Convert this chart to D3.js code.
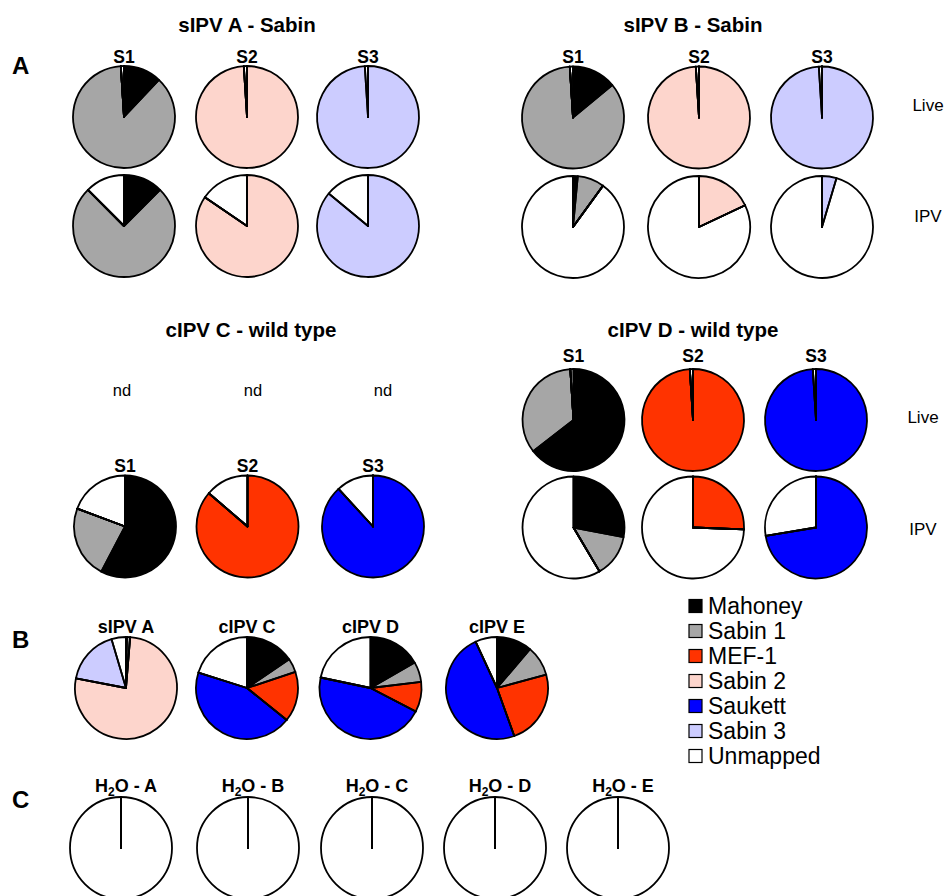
<!DOCTYPE html>
<html>
<head>
<meta charset="utf-8">
<script src="https://cdn.jsdelivr.net/npm/d3@7"></script>
<style>
  body { margin: 0; background: #fff; }
  svg { display: block; }
  text { font-family: "Liberation Sans", Arial, Helvetica, sans-serif; fill: #000; }
</style>
</head>
<body>
<svg id="chart" width="946" height="896"></svg>
<script>
// Strain order used for every pie (clockwise from 12 o'clock)
const strains = ["Mahoney", "Sabin 1", "MEF-1", "Sabin 2", "Saukett", "Sabin 3", "Unmapped"];
const strainColors = ["#000000", "#a6a6a6", "#ff3300", "#fdd5cc", "#0000ff", "#ccccff", "#ffffff"];
const serotypes = ["S1", "S2", "S3"];
const rowLabels = ["Live", "IPV"];

// Read share (%) per strain, one array per serotype S1, S2, S3
const sipvALive = [[12, 87, 0, 0, 0, 0, 1], [0, 0, 0, 99, 0, 0, 1], [0, 0, 0, 0, 0, 99, 1]];
const sipvAIpv  = [[12.5, 75, 0, 0, 0, 0, 12.5], [0, 0, 0, 84.5, 0, 0, 15.5], [0, 0, 0, 0, 0, 86, 14]];
const sipvBLive = [[14, 85, 0, 0, 0, 0, 1], [0, 0, 0, 99, 0, 0, 1], [0, 0, 0, 0, 0, 99, 1]];
const sipvBIpv  = [[1.5, 8.5, 0, 0, 0, 0, 90], [0, 0, 0, 18, 0, 0, 82], [0, 0, 0, 0, 0, 4.6, 95.4]];
const cipvCIpv  = [[57.7, 23, 0, 0, 0, 0, 19.3], [0, 0, 86.3, 0, 0, 0, 13.7], [0, 0, 0, 0, 88.2, 0, 11.8]];
const cipvDLive = [[64.5, 34.5, 0, 0, 0, 0, 1], [0, 0, 99, 0, 0, 0, 1], [0, 0, 0, 0, 99, 0, 1]];
const cipvDIpv  = [[28, 13.5, 0, 0, 0, 0, 58.5], [0, 0, 25.6, 0, 0, 0, 74.4], [0, 0, 0, 0, 72.4, 0, 27.6]];

// Panel B: whole-vaccine composition
const vaccineLabels = ["sIPV A", "cIPV C", "cIPV D", "cIPV E"];
const vaccineValues = [
  [0.3, 1, 0, 76.7, 0, 17.4, 4.6],
  [15.5, 4.4, 15.9, 0, 44.1, 0, 20.1],
  [16.7, 6.4, 9.5, 0, 45.7, 0, 21.7],
  [11.2, 9.6, 23.7, 0, 48.6, 0, 6.9]
];

// Panel C: water controls
const waterLabels = ["A", "B", "C", "D", "E"];
const waterSpacing = ["", " ", "", " ", ""];
const waterValues = [
  [0, 0, 0, 0, 0, 0, 100],
  [0, 0, 0, 0, 0, 0, 100],
  [0, 0, 0, 0, 0, 0, 100],
  [0, 0, 0, 0, 0, 0, 100],
  [0, 0, 0, 0, 0, 0, 100]
];

const svg = d3.select("#chart");
const color = d3.scaleOrdinal(strains, strainColors);
const R = 51;
const pie = d3.pie().sort(null).value(d => d.v);
const arc = d3.arc().innerRadius(0).outerRadius(R);

// Fills first, then all slice outlines on top so that empty
// slices still show their boundary spoke.
function drawPie(cx, cy, values) {
  const g = svg.append("g").attr("transform", `translate(${cx},${cy})`);
  const arcs = pie(values.map((v, i) => ({ key: strains[i], v })));
  g.append("g").selectAll("path")
    .data(arcs)
    .join("path")
    .attr("d", arc)
    .attr("fill", d => color(d.data.key));
  g.append("g").selectAll("path")
    .data(arcs)
    .join("path")
    .attr("d", arc)
    .attr("fill", "none")
    .attr("stroke", "#000")
    .attr("stroke-width", 1.8)
    .attr("stroke-linejoin", "round");
}

function label(x, y, txt, size, weight, anchor = "middle") {
  return svg.append("text")
    .attr("x", x).attr("y", y)
    .attr("text-anchor", anchor)
    .attr("font-size", size)
    .attr("font-weight", weight)
    .text(txt);
}

// ---- Panel A ----
label(12, 74, "A", 24, "bold", "start");

// sIPV A - Sabin
label(247, 32, "sIPV A - Sabin", 20.5, "bold");
[124, 247, 368].forEach((x, i) => {
  label(x, 63, serotypes[i], 17.5, "bold");
  drawPie(x, 117, sipvALive[i]);
  drawPie(x, 226, sipvAIpv[i]);
});

// sIPV B - Sabin
label(693, 32, "sIPV B - Sabin", 20.5, "bold");
[573, 699, 822].forEach((x, i) => {
  label(x, 63, serotypes[i], 17.5, "bold");
  drawPie(x, 117.5, sipvBLive[i]);
  drawPie(x, 227, sipvBIpv[i]);
});
label(928, 111, rowLabels[0], 17, "normal");
label(928, 222, rowLabels[1], 17, "normal");

// cIPV C - wild type
label(251, 337, "cIPV C - wild type", 20.5, "bold");
[122, 253, 383].forEach(x => label(x, 396, "nd", 16.5, "normal"));
[125, 247.5, 373].forEach((x, i) => {
  label(x, 472, serotypes[i], 17.5, "bold");
  drawPie(x, 526.5, cipvCIpv[i]);
});

// cIPV D - wild type
label(693, 337, "cIPV D - wild type", 20.5, "bold");
[573.5, 693, 816].forEach((x, i) => {
  label(x, 362, serotypes[i], 17.5, "bold");
  drawPie(x, 420, cipvDLive[i]);
  drawPie(x, 527.5, cipvDIpv[i]);
});
label(923, 423, rowLabels[0], 17, "normal");
label(923, 535, rowLabels[1], 17, "normal");

// ---- Panel B ----
label(12, 648, "B", 24, "bold", "start");
[126, 247, 370.5, 497].forEach((x, i) => {
  label(x, 633, vaccineLabels[i], 18, "bold");
  drawPie(x, 688, vaccineValues[i]);
});

// Legend
const legend = svg.append("g").attr("transform", "translate(689,606)");
strains.forEach((s, i) => {
  const row = legend.append("g").attr("transform", `translate(0,${i * 25})`);
  row.append("rect")
    .attr("x", 0).attr("y", -6.5)
    .attr("width", 13).attr("height", 13)
    .attr("fill", color(s))
    .attr("stroke", "#000").attr("stroke-width", 1.2);
  row.append("text")
    .attr("x", 19).attr("y", 8)
    .attr("font-size", 23)
    .text(s);
});

// ---- Panel C ----
label(12, 808, "C", 24, "bold", "start");
[121, 248, 372, 495, 618].forEach((x, i) => {
  const t = svg.append("text")
    .attr("x", x + 5).attr("y", 792)
    .attr("text-anchor", "middle")
    .attr("font-size", 18)
    .attr("font-weight", "bold");
  t.append("tspan").text("H");
  t.append("tspan").attr("font-size", 12).attr("dy", 4).text("2");
  t.append("tspan").attr("dy", -4).text("O -" + waterSpacing[i] + " " + waterLabels[i]);
  drawPie(x, 848, waterValues[i]);
});
</script>
</body>
</html>
